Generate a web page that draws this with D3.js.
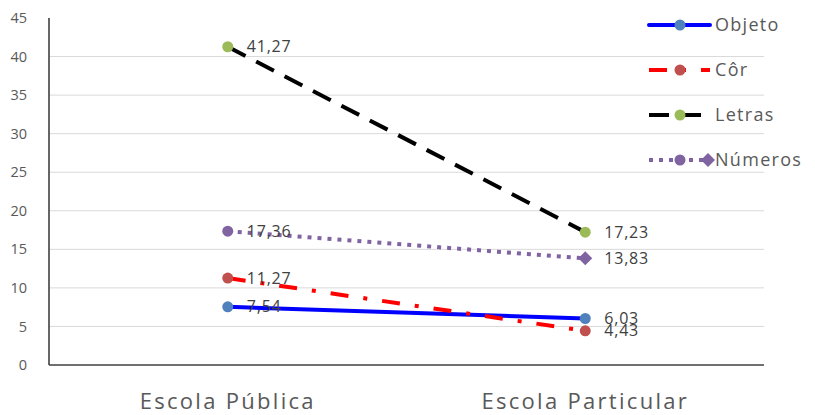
<!DOCTYPE html>
<html><head><meta charset="utf-8">
<script src="https://cdn.jsdelivr.net/npm/d3@7"></script>
<style>body{margin:0;background:#fff}svg{display:block}text{font-family:"Open Sans",sans-serif}</style>
</head><body><svg id="c" width="815" height="415"></svg>
<script>
const categories = ["Escola Pública", "Escola Particular"];
const seriesNames = ["Objeto", "Côr", "Letras", "Números"];
const objeto = [7.54, 6.03];
const cor = [11.27, 4.43];
const letras = [41.27, 17.23];
const numeros = [17.36, 13.83];
const yTicks = [0, 5, 10, 15, 20, 25, 30, 35, 40, 45];

const styles = [
  {line:"#0000FF", marker:"#4F81BD", dash:null, cap:"round", shapes:["circle","circle"]},
  {line:"#FF0000", marker:"#C0504D", dash:"18,15,4,15", cap:"butt", shapes:["circle","circle"]},
  {line:"#000000", marker:"#9BBB59", dash:"20,12", cap:"butt", shapes:["circle","circle"]},
  {line:"#8064A2", marker:"#8064A2", dash:"4,6", cap:"butt", shapes:["circle","diamond"]}
];
const series = [objeto, cor, letras, numeros].map((v,i)=>({name:seriesNames[i], values:v, style:styles[i]}));

const svg = d3.select("#c");
const mLeft = 49, mRight = 764, mTop = 18, mBottom = 365;
const x = d3.scaleBand().domain(categories).range([mLeft, mRight]);
const y = d3.scaleLinear().domain([0, 45]).range([mBottom, mTop]);
const cx = c => x(c) + x.bandwidth()/2;

// gridlines
svg.append("g").selectAll("line").data(yTicks.filter(t=>t>0 && t<45)).join("line")
  .attr("x1", mLeft).attr("x2", mRight).attr("y1", d=>y(d)).attr("y2", d=>y(d))
  .attr("stroke", "#d9d9d9").attr("stroke-width", 1);

// y axis labels
svg.append("g").selectAll("text").data(yTicks).join("text")
  .attr("x", 27).attr("y", d=>y(d)).attr("dy", "0.35em").attr("text-anchor","end")
  .attr("font-size", 14.5).attr("fill", "#595959").text(d=>d);

// axes lines
svg.append("line").attr("x1", mLeft).attr("x2", mLeft).attr("y1", mTop).attr("y2", mBottom)
  .attr("stroke", "#404040").attr("stroke-width", 1.6);
svg.append("line").attr("x1", mLeft).attr("x2", mRight).attr("y1", mBottom).attr("y2", mBottom)
  .attr("stroke", "#404040").attr("stroke-width", 1.6);

// category labels
svg.append("g").selectAll("text").data(categories).join("text")
  .attr("x", d=>cx(d)).attr("y", 409).attr("text-anchor","middle")
  .attr("font-size", 22).attr("letter-spacing", 2.3).attr("fill", "#595959").text(d=>d);

const line = d3.line().x((d,i)=>cx(categories[i])).y(d=>y(d));

function drawMarker(g, shape, px, py, color){
  if(shape === "diamond"){
    g.append("path").attr("d", "M0,-7L7,0L0,7L-7,0Z").attr("transform", `translate(${px},${py})`).attr("fill", color);
  } else {
    g.append("circle").attr("cx", px).attr("cy", py).attr("r", 5.5).attr("fill", color);
  }
}

// series
series.forEach(s=>{
  const g = svg.append("g");
  g.append("path").datum(s.values).attr("d", line).attr("fill","none")
    .attr("stroke", s.style.line).attr("stroke-width", 4)
    .attr("stroke-dasharray", s.style.dash).attr("stroke-linecap", s.style.cap);
  s.values.forEach((v,i)=>drawMarker(g, s.style.shapes[i], cx(categories[i]), y(v), s.style.marker));
});
// data labels
series.forEach(s=>{
  svg.append("g").selectAll("text").data(s.values).join("text")
    .attr("x", (d,i)=>cx(categories[i]) + 19).attr("y", d=>y(d)).attr("dy","0.35em")
    .attr("font-size", 16).attr("letter-spacing", 0.8).attr("fill", "#404040")
    .text(d=>d3.format(".2f")(d).replace(".", ","));
});

// legend
const legY = [25, 70, 115, 160];
series.forEach((s,i)=>{
  const g = svg.append("g");
  const ly = legY[i];
  g.append("line").attr("x1", 649).attr("x2", 710).attr("y1", ly).attr("y2", ly)
    .attr("stroke", s.style.line).attr("stroke-width", 4)
    .attr("stroke-dasharray", s.style.dash).attr("stroke-linecap", s.style.cap);
  drawMarker(g, "circle", 680, ly, s.style.marker);
  if(s.style.shapes[1] === "diamond") drawMarker(g, "diamond", 708, ly, s.style.marker);
  g.append("text").attr("x", 715).attr("y", ly).attr("dy","0.35em")
    .attr("font-size", 18).attr("letter-spacing", 1.3).attr("fill", "#595959").text(s.name);
});
</script></body></html>
